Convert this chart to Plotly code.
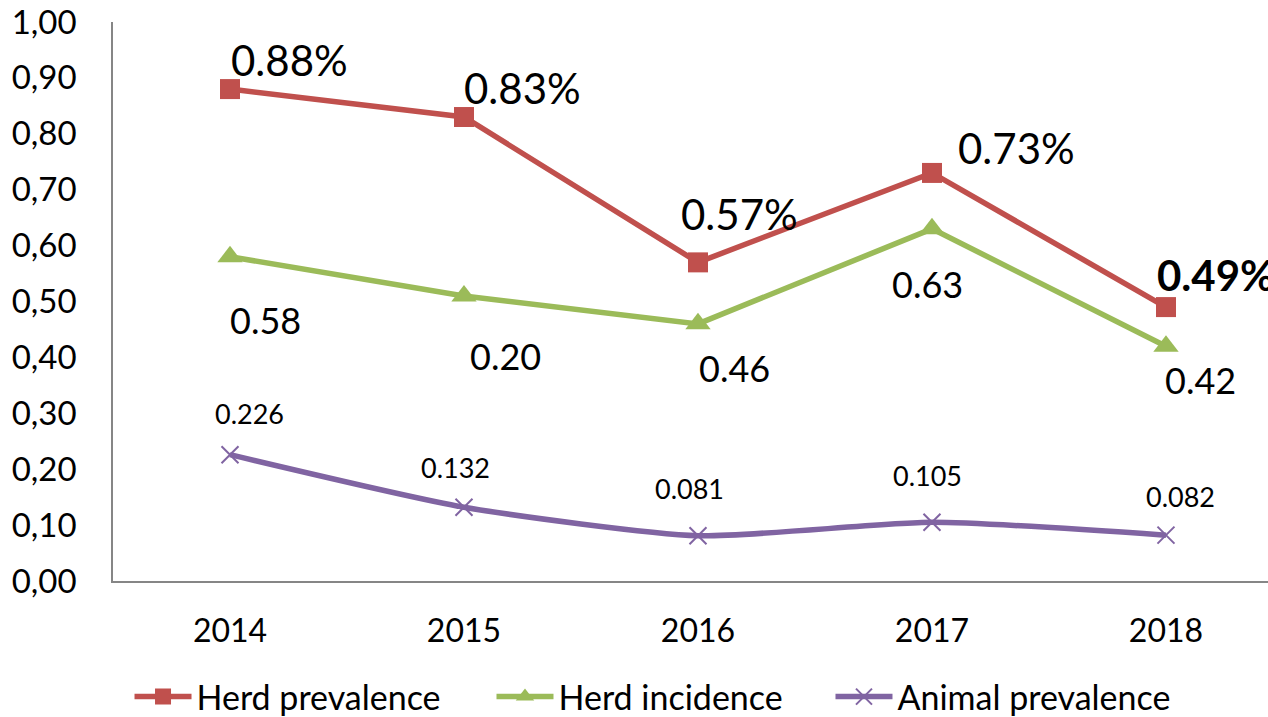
import plotly.graph_objects as go

years = ["2014", "2015", "2016", "2017", "2018"]
herd_prevalence = [0.88, 0.83, 0.57, 0.73, 0.49]
herd_prevalence_labels = ["0.88%", "0.83%", "0.57%", "0.73%", "<b>0.49%</b>"]
herd_incidence = [0.58, 0.51, 0.46, 0.63, 0.42]
herd_incidence_labels = ["0.58", "0.20", "0.46", "0.63", "0.42"]
animal_prevalence = [0.226, 0.132, 0.081, 0.105, 0.082]
animal_prevalence_labels = ["0.226", "0.132", "0.081", "0.105", "0.082"]
y_ticks = [0.0, 0.1, 0.2, 0.3, 0.4, 0.5, 0.6, 0.7, 0.8, 0.9, 1.0]
y_tick_labels = ["0,00", "0,10", "0,20", "0,30", "0,40", "0,50", "0,60", "0,70", "0,80", "0,90", "1,00"]

RED = "#C0504D"
GREEN = "#9BBB59"
PURPLE = "#8064A2"
FONT = "Lato"

fig = go.Figure()
fig.add_trace(go.Scatter(
    x=years, y=herd_prevalence, name="Herd prevalence", mode="lines+markers",
    line=dict(color=RED, width=5.5),
    marker=dict(symbol="square", size=20, color=RED),
    legend="legend",
))
fig.add_trace(go.Scatter(
    x=years, y=herd_incidence, name="Herd incidence", mode="lines+markers",
    line=dict(color=GREEN, width=5.5),
    marker=dict(symbol="triangle-up", size=22, color=GREEN),
    legend="legend2",
))
fig.add_trace(go.Scatter(
    x=years, y=animal_prevalence, name="Animal prevalence", mode="lines+markers",
    line=dict(color=PURPLE, width=5.5, shape="spline", smoothing=0.6),
    marker=dict(symbol="x-thin", size=17, line=dict(color=PURPLE, width=2), color=PURPLE),
    legend="legend3",
))

# label offsets (pixels) relative to each point: (dx, dy) of label center
hp_off = [(59, 29), (59, 29), (42, 48), (85, 25), (50, 32)]
hi_off = [(35, -63), (42, -60), (37, -44), (-4, -55), (35, -34)]
ap_off = [(19, 41), (-8, 40), (-8, 47), (-4, 47), (15, 39)]

for i, yr in enumerate(years):
    fig.add_annotation(xref="x", yref="y", x=i, y=herd_prevalence[i], text=herd_prevalence_labels[i],
                       xshift=hp_off[i][0], yshift=hp_off[i][1], showarrow=False,
                       font=dict(family=FONT, size=42, color="black"))
    fig.add_annotation(xref="x", yref="y", x=i, y=herd_incidence[i], text=herd_incidence_labels[i],
                       xshift=hi_off[i][0], yshift=hi_off[i][1], showarrow=False,
                       font=dict(family=FONT, size=36, color="black"))
    fig.add_annotation(xref="x", yref="y", x=i, y=animal_prevalence[i], text=animal_prevalence_labels[i],
                       xshift=ap_off[i][0], yshift=ap_off[i][1], showarrow=False,
                       font=dict(family=FONT, size=27, color="black"))

legend_common = dict(orientation="h", xanchor="left", y=-0.2075, yanchor="middle",
                     font=dict(family=FONT, size=34, color="black"), itemwidth=57,
                     bgcolor="rgba(0,0,0,0)")

fig.update_layout(
    width=1268, height=717,
    margin=dict(l=113, r=0, t=22, b=136, autoexpand=False),
    paper_bgcolor="white", plot_bgcolor="white",
    font=dict(family=FONT, size=28, color="black"),
    showlegend=True,
    legend=dict(x=0.0143, **legend_common),
    legend2=dict(x=0.3277, **legend_common),
    legend3=dict(x=0.6212, **legend_common),
)
fig.update_xaxes(
    type="category", range=[-0.5, 4.436], showgrid=False, showline=True,
    linecolor="#868686", linewidth=1.5, ticks="", ticklabelstandoff=21,
    tickfont=dict(family=FONT, size=32, color="black"),
)
fig.update_yaxes(
    range=[0, 1.0], tickvals=y_ticks, ticktext=y_tick_labels, showgrid=False,
    showline=True, linecolor="#868686", linewidth=1.5, ticks="", zeroline=False,
    ticklabelstandoff=28, tickfont=dict(family=FONT, size=33, color="black"),
)

fig.write_html("out.html", config={"displayModeBar": False},
               post_script="document.body.style.margin='0';document.body.style.overflow='hidden';")
